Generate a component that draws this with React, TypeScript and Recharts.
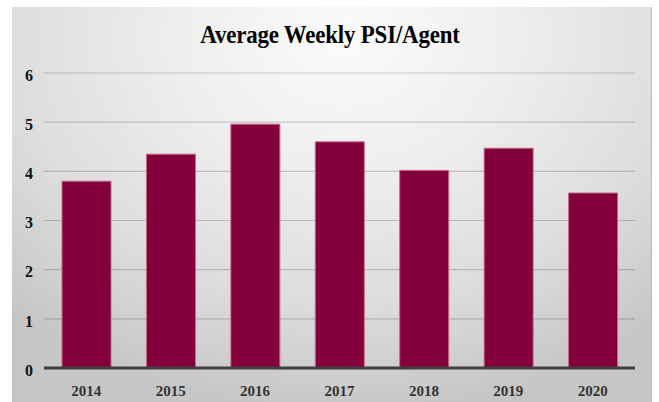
import React from 'react';
import { BarChart, Bar, XAxis, YAxis, CartesianGrid } from 'recharts';

const years = ['2014', '2015', '2016', '2017', '2018', '2019', '2020'];
const psiValues = [3.8, 4.35, 4.96, 4.6, 4.02, 4.47, 3.56];
const yTicks = [0, 1, 2, 3, 4, 5, 6];
const title = 'Average Weekly PSI/Agent';

const data = years.map((y, i) => ({ year: y, value: psiValues[i] }));

export default function App() {
  return (
    <div style={{ position: 'absolute', left: 0, top: 0, width: 659, height: 402, background: '#fff', overflow: 'hidden' }}>
      <div
        style={{
          position: 'absolute',
          left: 12,
          top: 7,
          width: 640,
          height: 395,
          boxSizing: 'border-box',
          borderRight: '1px solid #b8b8b8',
          background: 'radial-gradient(ellipse 75% 95% at 52% 8%, #fbfbfb 0%, #eeeeee 35%, #dddddd 70%, #c6c6c6 100%)',
        }}
      />
      <div
        style={{
          position: 'absolute',
          left: 0,
          top: 22,
          width: 660,
          textAlign: 'center',
          fontFamily: '"Liberation Serif", "Times New Roman", serif',
          fontWeight: 'bold',
          fontSize: 26,
          lineHeight: '26px',
          letterSpacing: -0.2,
          transform: 'scaleX(0.88)',
          transformOrigin: '330px 0',
          color: '#000',
        }}
      >
        {title}
      </div>
      <div style={{ position: 'absolute', left: 0, top: 0 }}>
        <BarChart
          width={659}
          height={402}
          data={data}
          margin={{ top: 73, right: 24, bottom: 4, left: 0 }}
          barSize={49}
        >
          <CartesianGrid vertical={false} stroke="#000" strokeOpacity={0.18} strokeWidth={1.2} />
          <XAxis
            dataKey="year"
            height={30}
            tickSize={0}
            tickMargin={17}
            axisLine={{ stroke: '#404040', strokeWidth: 3 }}
            tickLine={false}
            tick={{ fontFamily: '"Liberation Serif", "Times New Roman", serif', fontWeight: 'bold', fontSize: 15, fill: '#333' }}
          />
          <YAxis
            width={44}
            domain={[0, 6]}
            ticks={yTicks}
            interval={0}
            axisLine={false}
            tickLine={false}
            tickSize={0}
            tickMargin={11}
            tick={{ fontFamily: '"Liberation Serif", "Times New Roman", serif', fontWeight: 'bold', fontSize: 16, fill: '#111', dy: 2 }}
          />
          <Bar dataKey="value" fill="#84003a" stroke="#c46a8c" strokeWidth={1} isAnimationActive={false} />
        </BarChart>
      </div>
    </div>
  );
}
